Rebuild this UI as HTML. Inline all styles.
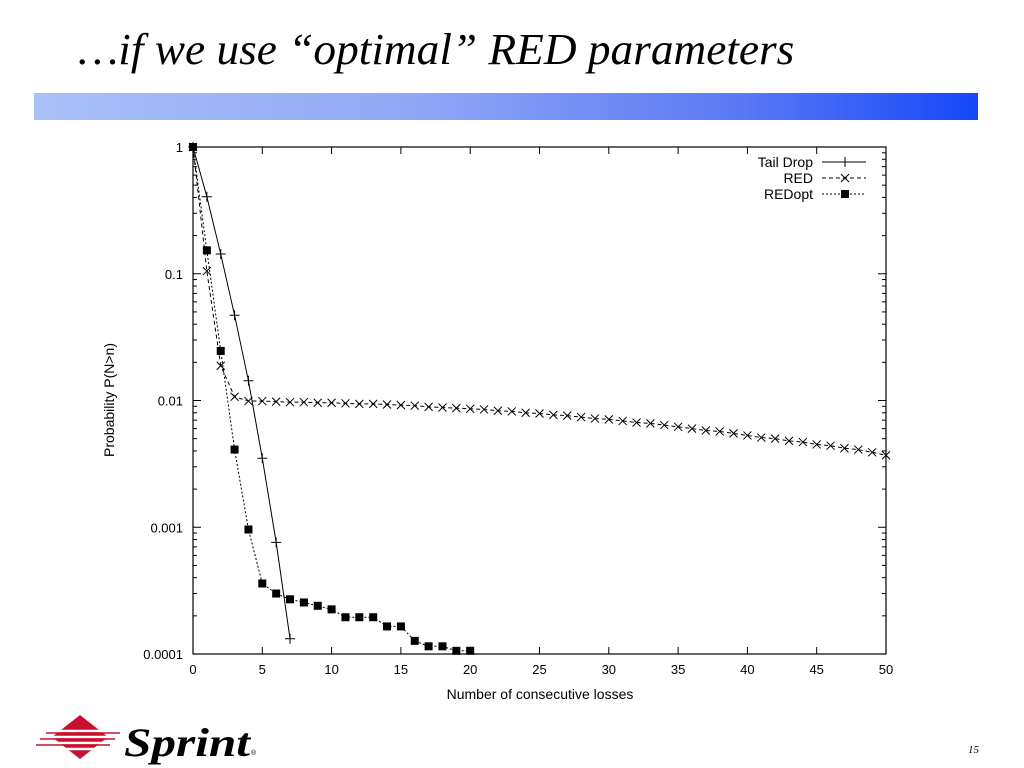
<!DOCTYPE html>
<html><head><meta charset="utf-8"><style>
html,body{margin:0;padding:0;background:#fff;width:1024px;height:768px;overflow:hidden;position:relative}
#title{position:absolute;left:78px;top:24px;font-family:"Liberation Serif",serif;font-style:italic;font-size:44px;transform:scaleX(1.03);transform-origin:left top;white-space:nowrap;color:#000}
#bar{position:absolute;left:34px;top:93px;width:944px;height:27px;background:linear-gradient(to right,#a9c0f8,#90a8f6 40%,#5a78f4 75%,#1448f8)}
#pg{position:absolute;left:968px;top:744px;font-family:"Liberation Serif",serif;font-style:italic;font-size:11px}
#chart text{font-family:"Liberation Sans",sans-serif}
</style></head><body>
<div id="title">…if we use “optimal” RED parameters</div>
<div id="bar"></div>
<svg id="chart" width="1024" height="768" style="position:absolute;left:0;top:0"></svg>
<svg width="270" height="68" style="position:absolute;left:0;top:700px">
<polygon points="80,15 108,37 80,59 52,37" fill="#c8102e"/>
<g stroke="#fff" stroke-width="2.5"><line x1="36" y1="31" x2="122" y2="31"/><line x1="36" y1="37" x2="122" y2="37"/><line x1="36" y1="43" x2="122" y2="43"/><line x1="36" y1="49" x2="122" y2="49"/></g>
<g stroke="#c8102e" stroke-width="1.5"><line x1="46" y1="33" x2="120" y2="33"/><line x1="40" y1="39" x2="115" y2="39"/><line x1="36" y1="45" x2="110" y2="45"/></g>
<text x="124" y="56" font-family="Liberation Serif, serif" font-style="italic" font-weight="bold" font-size="40" textLength="126" lengthAdjust="spacingAndGlyphs">Sprint</text>
<text x="251" y="55" font-family="Liberation Sans, sans-serif" font-size="7">®</text>
</svg>
<div id="pg">15</div>
<script>
const xTicks=[0,5,10,15,20,25,30,35,40,45,50];
const yTicks=[1,0.1,0.01,0.001,0.0001];
const yTickLabels=["1","0.1","0.01","0.001","0.0001"];
const tailN=[0,1,2,3,4,5,6,7];
const tailP=[1,0.405,0.143,0.047,0.0143,0.0035,0.00076,0.000132];
const redN=[0,1,2,3,4,5,6,7,8,9,10,11,12,13,14,15,16,17,18,19,20,21,22,23,24,25,26,27,28,29,30,31,32,33,34,35,36,37,38,39,40,41,42,43,44,45,46,47,48,49,50];
const redP=[1,0.105,0.0188,0.0107,0.0099,0.0099,0.0098,0.0097,0.0097,0.0096,0.0096,0.0095,0.0094,0.0094,0.0093,0.0092,0.0091,0.0089,0.0088,0.0087,0.0086,0.0085,0.0083,0.0082,0.0080,0.0079,0.0077,0.0076,0.0074,0.0072,0.0071,0.0069,0.0067,0.0066,0.0064,0.0062,0.0060,0.0058,0.0057,0.0055,0.0053,0.0051,0.0050,0.0048,0.0047,0.0045,0.0044,0.0042,0.0041,0.0039,0.0037];
const optN=[0,1,2,3,4,5,6,7,8,9,10,11,12,13,14,15,16,17,18,19,20];
const optP=[1,0.153,0.0246,0.0041,0.00096,0.00036,0.00030,0.00027,0.000255,0.00024,0.000225,0.000195,0.000195,0.000195,0.000165,0.000165,0.000127,0.000115,0.000115,0.000106,0.000106];

const L=193,R=886,T=147,B=654;
const sx=v=>L+(v-0)/(50-0)*(R-L);
const sy=v=>T+(-Math.log10(v))/4*(B-T);
const svg=document.getElementById('chart');
const NS='http://www.w3.org/2000/svg';
function mk(tag,attrs,parent){const e=document.createElementNS(NS,tag);for(const k in attrs)e.setAttribute(k,attrs[k]);(parent||svg).appendChild(e);return e;}
let fr=mk('rect',{x:L,y:T,width:R-L,height:B-T,fill:'none',stroke:'#000','stroke-width':1.2});


xTicks.forEach(t=>{const x=sx(t);
 mk('line',{x1:x,y1:B,x2:x,y2:B-7,stroke:'#000'});mk('line',{x1:x,y1:T,x2:x,y2:T+7,stroke:'#000'});
 const tx=mk('text',{x:x,y:B+20,'text-anchor':'middle','font-size':13});tx.textContent=t;
 
 
});
yTicks.forEach((t,i)=>{const y=sy(t);
 mk('line',{x1:L,y1:y,x2:L+8,y2:y,stroke:'#000'});mk('line',{x1:R,y1:y,x2:R-8,y2:y,stroke:'#000'});
 const tx=mk('text',{x:183,y:y+5,'text-anchor':'end','font-size':13});tx.textContent=yTickLabels[i];
 
 
 if(i<yTicks.length-1){for(let m=2;m<=9;m++){const yy=sy(t/10*m);
  mk('line',{x1:L,y1:yy,x2:L+4,y2:yy,stroke:'#000'});mk('line',{x1:R,y1:yy,x2:R-4,y2:yy,stroke:'#000'});}}
});
let xt=mk('text',{x:540,y:699,'text-anchor':'middle','font-size':14});xt.textContent='Number of consecutive losses';


let yt=mk('text',{x:0,y:0,'text-anchor':'middle','font-size':14,transform:'translate(114,400) rotate(-90)'});yt.textContent='Probability P(N>n)';


function pts(N,P){return N.map((n,i)=>sx(n)+','+sy(P[i])).join(' ');}
function plus(g,x,y){mk('path',{d:`M${x-5},${y}h10M${x},${y-5}v10`,stroke:'#000','stroke-width':1,fill:'none'},g);}
function cross(g,x,y){mk('path',{d:`M${x-4},${y-4}l8,8M${x-4},${y+4}l8,-8`,stroke:'#000','stroke-width':1,fill:'none'},g);}
function sq(g,x,y){mk('rect',{x:x-4,y:y-4,width:8,height:8,fill:'#000'},g);}
let g1=mk('g',{});
mk('polyline',{points:pts(tailN,tailP),fill:'none',stroke:'#000','stroke-width':1},g1);
tailN.forEach((n,i)=>plus(g1,sx(n),sy(tailP[i])));
let g2=mk('g',{});
mk('polyline',{points:pts(redN,redP),fill:'none',stroke:'#000','stroke-width':1,'stroke-dasharray':'4,3'},g2);
redN.forEach((n,i)=>cross(g2,sx(n),sy(redP[i])));
let g3=mk('g',{});
mk('polyline',{points:pts(optN,optP),fill:'none',stroke:'#000','stroke-width':1,'stroke-dasharray':'2,2'},g3);
optN.forEach((n,i)=>sq(g3,sx(n),sy(optP[i])));
const leg=[['Tail Drop',null,plus],['RED','4,3',cross],['REDopt','2,2',sq]];
leg.forEach((l,i)=>{const y=162+i*16;
 const g=mk('g',{});
 
 
 const t=mk('text',{x:813,y:y+5,'text-anchor':'end','font-size':14},g);t.textContent=l[0];
 const a={x1:822,y1:y,x2:866,y2:y,stroke:'#000','stroke-width':1};if(l[1])a['stroke-dasharray']=l[1];
 mk('line',a,g);l[2](g,845,y);
});
</script>
</body></html>
